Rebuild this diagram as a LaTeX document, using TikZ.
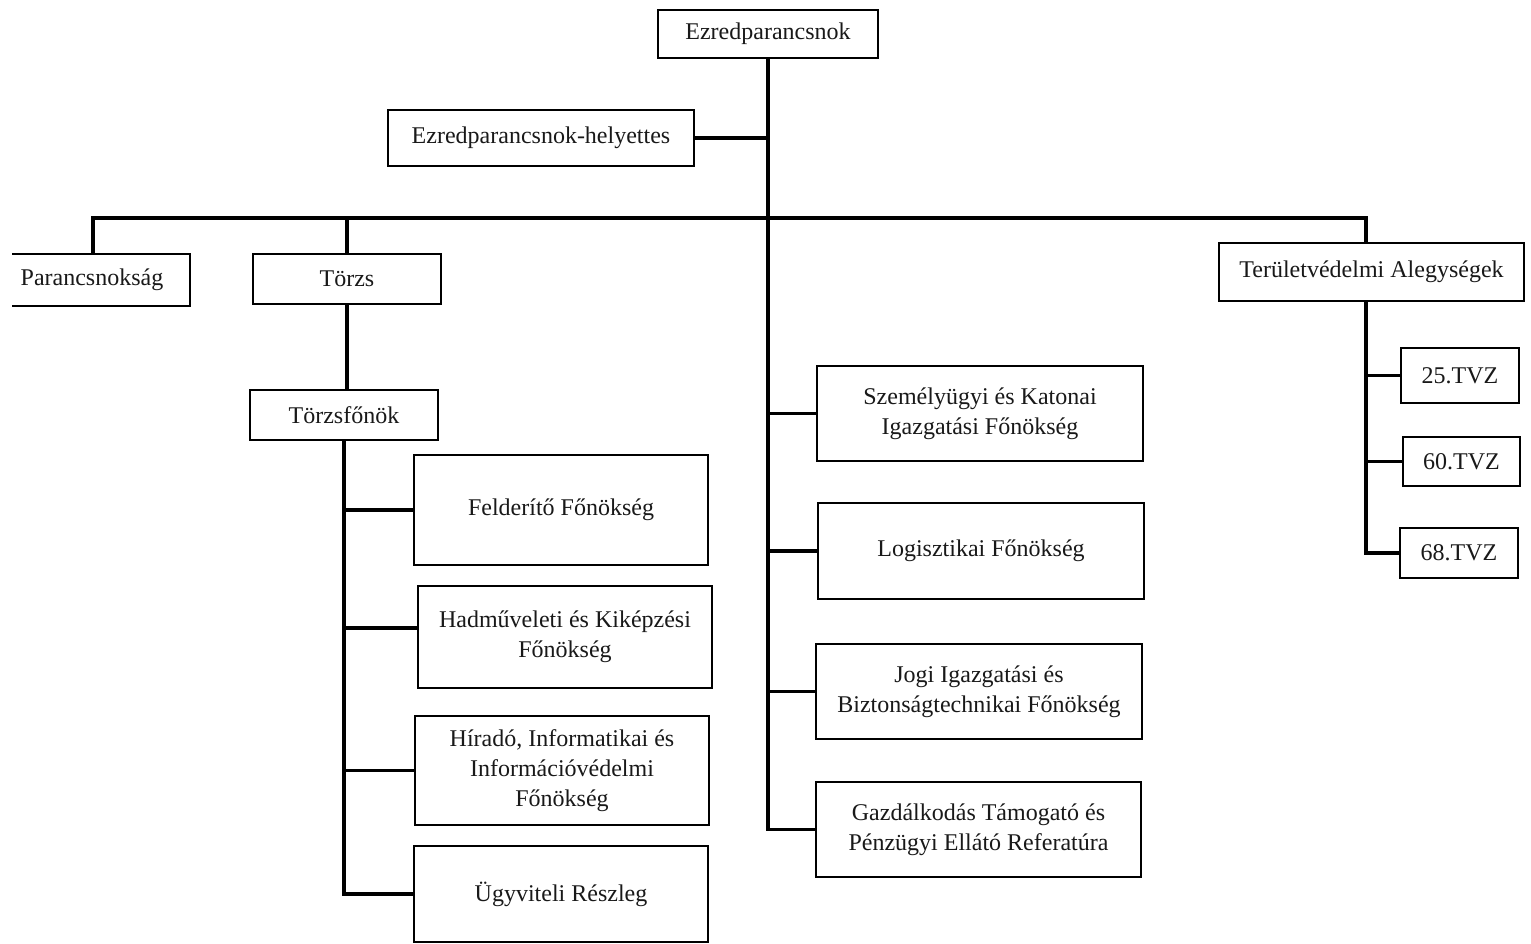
\documentclass[tikz,border=0pt]{standalone}
\usepackage{fontspec}
\setmainfont{Liberation Serif}
\begin{document}
\begin{tikzpicture}[x=1pt,y=-1pt,
  box/.style={draw, line width=1.6pt, align=center, inner sep=0pt,
    font=\fontsize{24}{30}\selectfont, text=black!90},
  conn/.style={line width=3.4pt}]
\useasboundingbox[fill=white] (0,0) rectangle (1531,943);
% boxes
\node[box, minimum width=220pt, minimum height=48pt] (ez) at (768,34) {Ezredparancsnok};
\node[box, minimum width=306pt, minimum height=56pt] (hely) at (541,138) {Ezredparancsnok-helyettes};
\node[box, draw=none, minimum width=194pt, minimum height=50pt] (par) at (92,280) {Parancsnokság};
\draw[line width=1.6pt] ([xshift=18pt]par.north west) -- (par.north east) -- (par.south east) -- ([xshift=18pt]par.south west);
\node[box, minimum width=188pt, minimum height=50pt] (torzs) at (347,279) {Törzs};
\node[box, minimum width=305pt, minimum height=58pt] (terv) at (1371.5,272) {Területvédelmi Alegységek};
\node[box, minimum width=188pt, minimum height=50pt] (tf) at (344,415) {Törzsfőnök};
\node[box, minimum width=294pt, minimum height=110pt] (feld) at (561,510) {Felderítő Főnökség};
\node[box, minimum width=294pt, minimum height=102pt] (hadm) at (565,637) {Hadműveleti és Kiképzési\\Főnökség};
\node[box, minimum width=294pt, minimum height=109pt] (hir) at (562,770.5) {Híradó, Informatikai és\\Információvédelmi\\Főnökség};
\node[box, minimum width=294pt, minimum height=96pt] (ugy) at (561,894) {Ügyviteli Részleg};
\node[box, minimum width=326pt, minimum height=95pt] (szem) at (980,413.5) {Személyügyi és Katonai\\Igazgatási Főnökség};
\node[box, minimum width=326pt, minimum height=96pt] (log) at (981,551) {Logisztikai Főnökség};
\node[box, minimum width=326pt, minimum height=95pt] (jogi) at (979,691.5) {Jogi Igazgatási és\\Biztonságtechnikai Főnökség};
\node[box, minimum width=325pt, minimum height=95pt] (gazd) at (978.5,829.5) {Gazdálkodás Támogató és\\Pénzügyi Ellátó Referatúra};
\node[box, minimum width=118pt, minimum height=55pt] (t25) at (1460,375.5) {25.TVZ};
\node[box, minimum width=117pt, minimum height=49pt] (t60) at (1461.5,461.5) {60.TVZ};
\node[box, minimum width=118pt, minimum height=50pt] (t68) at (1459,553) {68.TVZ};
% bus coordinates
\coordinate (busL) at (93,218);
\coordinate (busR) at (1366,218);
% connectors
\draw[conn] (ez.south) |- (gazd.west);
\draw[conn] (hely.east) -- (hely.east -| ez.south);
\draw[conn] (szem.west) -- (szem.west -| ez.south);
\draw[conn] (log.west) -- (log.west -| ez.south);
\draw[conn] (jogi.west) -- (jogi.west -| ez.south);
\draw[conn] (busL |- par.north) -- (busL) -- (busR) -- (busR |- terv.north);
\draw[conn] (torzs.north) -- (torzs.north |- busL);
\draw[conn] (torzs.south) -- (torzs.south |- tf.north);
\draw[conn] (tf.south) |- (ugy.west);
\draw[conn] (feld.west) -- (feld.west -| tf.south);
\draw[conn] ([yshift=9pt]hadm.west) -- ([yshift=9pt]hadm.west -| tf.south);
\draw[conn] (hir.west) -- (hir.west -| tf.south);
\draw[conn] (busR |- terv.south) |- (t68.west);
\draw[conn] (t25.west) -- (t25.west -| busR);
\draw[conn] (t60.west) -- (t60.west -| busR);
\end{tikzpicture}
\end{document}
